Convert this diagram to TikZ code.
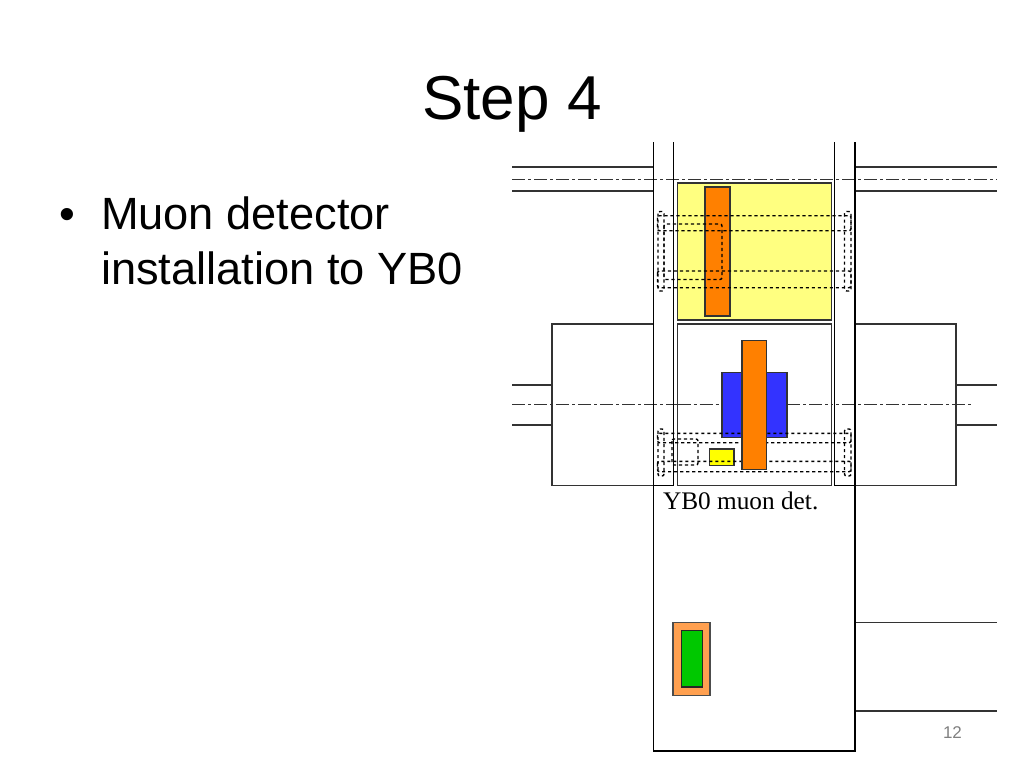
\documentclass[tikz,border=0pt]{standalone}
\usepackage{fontspec}
\setmainfont{Liberation Sans}
\newfontfamily\serifface{Liberation Serif}
\definecolor{paleyellow}{HTML}{FFFF80}
\definecolor{detorange}{HTML}{FF8000}
\definecolor{detblue}{HTML}{3333FF}
\definecolor{detyellow}{HTML}{FFFF00}
\definecolor{toolorange}{HTML}{FFA050}
\definecolor{detgreen}{HTML}{00C800}
\definecolor{linegray}{HTML}{333333}
\tikzset{
  x=1pt,y=-1pt,
  wall/.style={draw=black,line width=1.9pt},
  rail/.style={draw=linegray,line width=1.9pt},
  centre/.style={draw=linegray,line width=1pt,dash pattern=on 13pt off 3pt on 3pt off 3pt},
  part/.style={draw=black!80,line width=1.9pt},
  ghost/.style={draw=black,line width=1.4pt,dash pattern=on 3.2pt off 2.8pt,rounded corners=2pt},
  txt/.style={inner sep=0pt,outer sep=0pt,anchor=base west},
}
\begin{document}
\begin{tikzpicture}
\useasboundingbox (0,0) rectangle (1024,768);
\fill[white] (0,0) rectangle (1024,768);
% title and text
\node[inner sep=0pt,anchor=base] (title) at (512,119) {\fontsize{62}{62}\selectfont Step 4};
\node[txt] (bullet) at (59,229) {\fontsize{45}{45}\selectfont •};
\node[txt] (l1) at (101,229) {\fontsize{45.2}{45}\selectfont Muon detector};
\node[txt] (l2) at (101,284) {\fontsize{45.2}{45}\selectfont installation to YB0};
\node[txt] (caption) at (663,509) {\serifface\fontsize{25.3}{25}\selectfont YB0 muon det.};
\node[txt,text=black!50] (page) at (943,738) {\fontsize{17}{17}\selectfont 12};
% rails
\draw[rail] (512,167) -- (653.5,167) (512,191) -- (653.5,191);
\draw[rail] (855,167) -- (997,167) (855,191) -- (997,191);
\draw[rail] (512,385) -- (552,385) (512,425) -- (552,425);
\draw[rail] (956,385) -- (997,385) (956,425) -- (997,425);
\draw[rail] (855,622.5) -- (997,622.5) (855,711) -- (997,711);
% side boxes
\draw[part] (552,324) rectangle (653.5,485.5);
\draw[part] (855,324) rectangle (956,485.5);
% centre lines
\draw[centre] (512,179) -- (997,179);
\draw[centre] (512,404) -- (971,404);
% upper cell
\draw[part,fill=paleyellow] (677.5,183) rectangle (831.5,320);
\draw[part,fill=detorange] (705,187) rectangle (730,316);
% lower cell
\draw[part,fill=white] (677.5,324) rectangle (831.5,485.5);
\draw[centre] (677.5,404) -- (722,404) (787,404) -- (831.5,404);
\draw[part,fill=detblue] (722,372.5) rectangle (787,437.5);
\draw[part,fill=detyellow] (709.5,449) rectangle (734,465.5);
% walls
\draw[wall] (653.5,142) -- (653.5,751) -- (855,751) -- (855,142);
\draw[wall] (673.5,142) -- (673.5,485.5) -- (653.5,485.5);
\draw[wall] (834.5,142) -- (834.5,485.5) -- (855,485.5);
% ghost outlines, upper
\draw[ghost] (657.5,215.7) rectangle (851,230.7);
\draw[ghost] (657.5,271) rectangle (851,287.7);
\draw[ghost] (658,211.5) rectangle (664,291);
\draw[ghost] (844.5,211.5) rectangle (851,291);
\draw[ghost] (664,224) rectangle (722,279.5);
% ghost outlines, lower
\draw[ghost] (657.5,433.3) rectangle (851,442.7);
\draw[ghost] (657.5,461.3) rectangle (851,471.7);
\draw[ghost] (658,429) rectangle (664,476);
\draw[ghost] (844.5,429) rectangle (851,476);
\draw[ghost] (672,439) rectangle (698,465);
% front detector
\draw[part,fill=detorange] (742,340.5) rectangle (766.5,469.5);
% parked parts
\draw[draw=black!70,line width=1.4pt,fill=toolorange] (673,622.5) rectangle (710,695.5);
\draw[draw=black!85,line width=1.9pt,fill=detgreen] (681.5,630.5) rectangle (702.5,687);
\end{tikzpicture}
\end{document}
